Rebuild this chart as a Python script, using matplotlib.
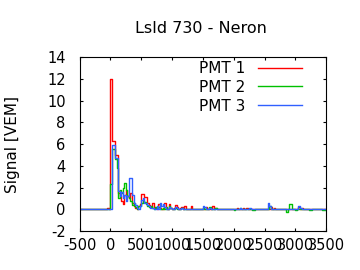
import numpy as np
import matplotlib.pyplot as plt

# trace bins are 25 ns wide, first listed bin starts at t = 0
bin_ns = 25
t_start = -500
t_end = 3500

pmt1_early = [12.0, 6.3, 6.3, 5.0, 5.0, 1.5, 1.2, 0.8, 0.5, 1.3,
              1.8, 1.2, 1.0, 1.5, 0.6, 0.3, 0.1, 0.0, 0.3, 0.5,
              1.4, 1.4, 1.1, 1.1, 0.6, 0.4, 0.2, 0.6, 0.2, 0.1,
              0.0, 0.5, 0.1, 0.0, 0.0, 0.6, 0.1, 0.0, 0.5, 0.1,
              0.0, 0.1, 0.4, 0.2, 0.0, 0.1, 0.2, 0.0, 0.3, 0.0]
pmt2_early = [2.3, 5.5, 5.5, 4.6, 3.8, 1.0, 1.8, 1.5, 2.0, 2.4,
              1.8, 1.2, 1.0, 0.8, 0.4, 0.6, 0.2, 0.0, 0.3, 0.3,
              0.6, 0.8, 0.7, 0.5, 0.3, 0.2, 0.3, 0.1, 0.0, 0.2,
              0.1, 0.2, 0.0, 0.0, 0.1, 0.0, 0.2, 0.0, 0.3, 0.1,
              0.0, 0.0, 0.1, 0.0, 0.0, 0.0, 0.1, 0.0, 0.0, 0.0]
pmt3_early = [0.0, 5.9, 5.9, 4.7, 4.7, 1.7, 1.2, 1.6, 1.0, 1.3,
              0.8, 1.2, 2.9, 2.9, 1.3, 0.6, 0.4, 0.1, 0.0, 0.3,
              0.9, 1.0, 0.6, 0.6, 0.4, 0.3, 0.1, 0.1, 0.0, 0.0,
              0.3, 0.0, 0.6, 0.3, 0.5, 0.2, 0.0, 0.0, 0.2, 0.1,
              0.0, 0.0, 0.2, 0.1, 0.0, 0.0, 0.1, 0.0, 0.0, 0.0]

# small late pulses: (bin start [ns], signal [VEM])
pmt1_late = [(-50, 0.1), (1300, 0.3), (1550, 0.2), (1650, 0.3), (1700, 0.1),
             (2050, 0.1), (2150, 0.1), (2200, 0.1), (2600, 0.2), (2650, 0.1),
             (3050, 0.2), (3100, 0.1)]
pmt2_late = [(1500, 0.1), (1600, 0.2), (1700, 0.1), (2000, -0.1), (2100, 0.1),
             (2300, -0.1), (2325, -0.1), (2575, 0.3), (2850, -0.2), (2900, 0.5),
             (2925, 0.5), (3000, -0.1), (3225, -0.1), (3250, -0.1), (3425, -0.1),
             (3450, -0.1), (3475, -0.1)]
pmt3_late = [(1500, 0.3), (1525, 0.2), (1600, 0.1), (2100, 0.1), (2250, 0.1),
             (2550, 0.6), (2575, 0.3), (3050, 0.3), (3075, 0.1)]


def build_trace(early, late):
    edges = np.arange(t_start, t_end + bin_ns, bin_ns)
    vals = np.zeros(len(edges))
    i0 = (0 - t_start) // bin_ns
    vals[i0:i0 + len(early)] = early
    for t, v in late:
        vals[(t - t_start) // bin_ns] = v
    return edges, vals


plt.rcParams['font.family'] = 'DejaVu Sans'
plt.rcParams['axes.unicode_minus'] = False
fig = plt.figure(figsize=(3.6, 2.7), dpi=100)
ax = fig.add_axes([0.221, 0.144, 0.685, 0.645])

for early, late, col, lab in [(pmt1_early, pmt1_late, '#ff0000', 'PMT 1'),
                              (pmt2_early, pmt2_late, '#00c000', 'PMT 2'),
                              (pmt3_early, pmt3_late, '#3060ff', 'PMT 3')]:
    x, y = build_trace(early, late)
    ax.step(x, y, where='post', color=col, lw=1, label=lab)

ax.set_xlim(-500, 3500)
ax.set_ylim(-2, 14)
ax.set_xticks(np.arange(-500, 3501, 500))
ax.set_yticks(np.arange(-2, 15, 2))
ax.tick_params(direction='in', top=True, right=True, length=2.5, labelsize=10.5)
ax.tick_params(axis='y', pad=10)
ax.tick_params(axis='x', pad=5)
ax.set_ylabel('Signal [VEM]', fontsize=11)
ax.yaxis.set_label_coords(-0.24, 0.5)
fig.text(0.557, 0.896, 'LsId 730 - Neron', ha='center', va='center', fontsize=11.5)

leg = ax.legend(loc='upper right', frameon=False, markerfirst=False, fontsize=11,
                handlelength=2.9, labelspacing=0.25, borderaxespad=0.2,
                bbox_to_anchor=(0.94, 1.03))

fig.savefig('out.png', dpi=100)
